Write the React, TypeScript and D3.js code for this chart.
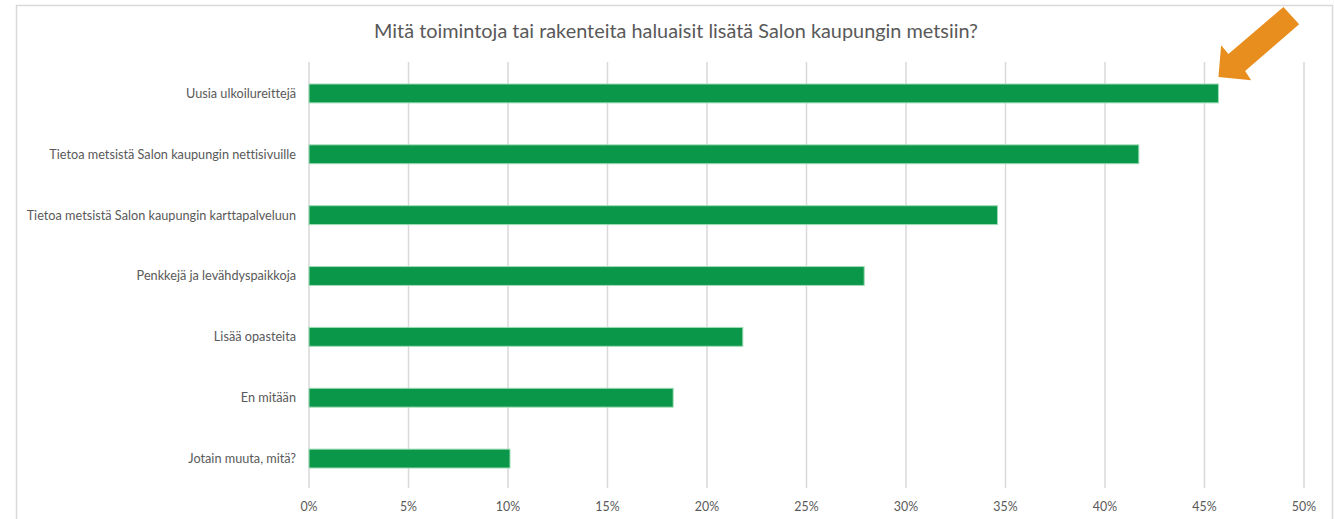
import React from "react";
import * as d3 from "d3";

const categories = [
  "Uusia ulkoilureittejä",
  "Tietoa metsistä Salon kaupungin nettisivuille",
  "Tietoa metsistä Salon kaupungin karttapalveluun",
  "Penkkejä ja levähdyspaikkoja",
  "Lisää opasteita",
  "En mitään",
  "Jotain muuta, mitä?",
];
const values = [0.457, 0.417, 0.346, 0.279, 0.218, 0.183, 0.101];
const ticks = [0, 0.05, 0.1, 0.15, 0.2, 0.25, 0.3, 0.35, 0.4, 0.45, 0.5];
const title = "Mitä toimintoja tai rakenteita haluaisit lisätä Salon kaupungin metsiin?";

const W = 1334;
const H = 519;
const FONT = "Lato, 'Open Sans', sans-serif";

export default function App() {
  const x = d3.scaleLinear().domain([0, 0.5]).range([309, 1304]);
  const y = d3.scaleBand<string>().domain(categories).range([63, 489]).paddingInner(0.69).paddingOuter(0.345);
  const fmt = d3.format(".0%");

  const tipX = x(values[0]);
  const tipY = (y(categories[0]) as number) - 7;
  const arrowRel: [number, number][] = [
    [0, 0],
    [2.7, -31.7],
    [10, -23],
    [65, -70],
    [80.7, -52.7],
    [26.7, -6],
    [32.7, 3.3],
  ];
  const arrowPts = arrowRel.map(([dx, dy]) => `${tipX + dx},${tipY + dy}`).join(" ");

  return (
    <svg
      width={W}
      height={H}
      style={{ position: "absolute", left: 0, top: 0, fontVariantLigatures: "none", fontFeatureSettings: "'liga' 0" }}
    >
      <rect x={0} y={0} width={W} height={H} fill="#fff" />
      <rect x={16.5} y={5.5} width={1316} height={530} fill="#fff" stroke="#d9d9d9" strokeWidth={1.5} />
      <text
        x={676}
        y={38}
        textAnchor="middle"
        fontFamily={FONT}
        fontSize={18.5}
        fill="#595959"
        textLength={604}
        lengthAdjust="spacingAndGlyphs"
      >
        {title}
      </text>
      {ticks.map((t) => (
        <g key={t}>
          <line x1={x(t)} x2={x(t)} y1={62} y2={488} stroke="#d9d9d9" strokeWidth={1.5} />
          <text x={x(t)} y={511} textAnchor="middle" fontFamily={FONT} fontSize={12.4} fill="#595959">
            {fmt(t)}
          </text>
        </g>
      ))}
      {categories.map((c, i) => {
        const by = y(c) as number;
        return (
          <g key={c}>
            <rect
              x={x(0)}
              y={by}
              width={x(values[i]) - x(0)}
              height={y.bandwidth()}
              fill="#0a974a"
              stroke="#9fdbb5"
              strokeWidth={1}
            />
            <text
              x={296}
              y={by + y.bandwidth() / 2}
              dy="0.35em"
              textAnchor="end"
              fontFamily={FONT}
              fontSize={12.7}
              fill="#595959"
            >
              {c}
            </text>
          </g>
        );
      })}
      <polygon points={arrowPts} fill="#e88e1e" />
    </svg>
  );
}
